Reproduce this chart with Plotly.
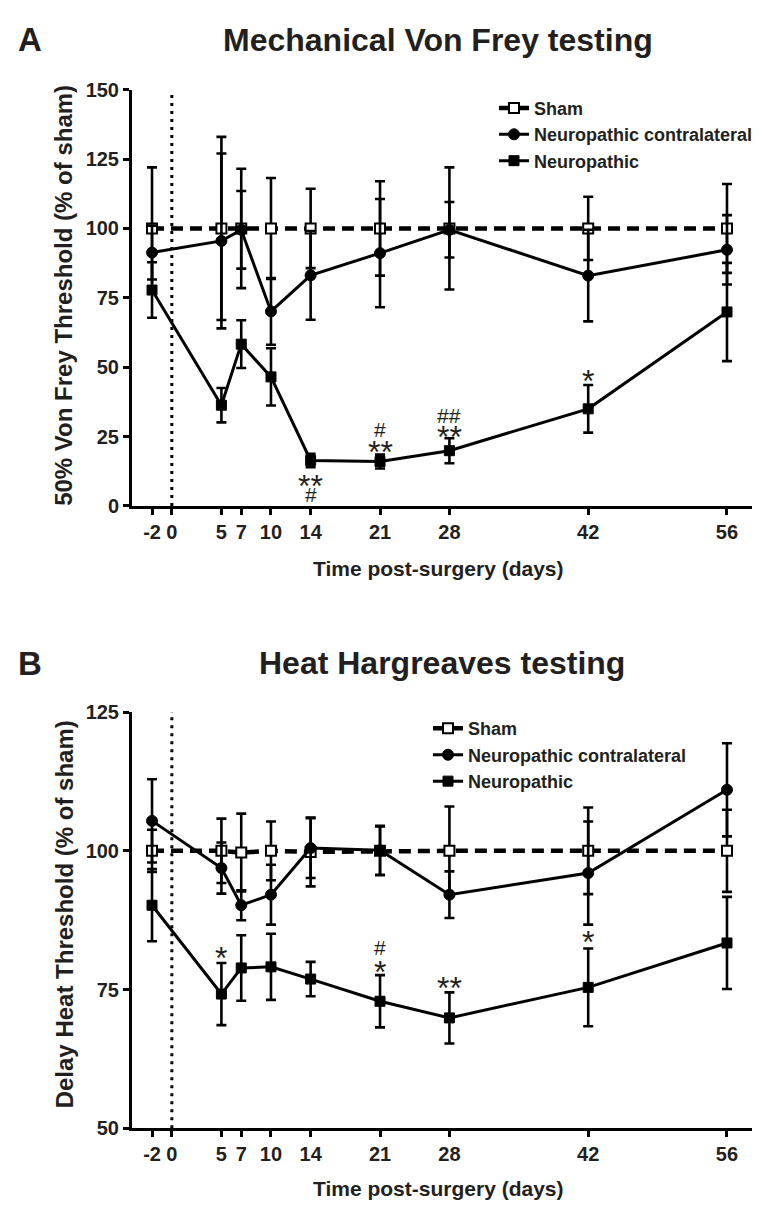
import plotly.graph_objects as go

# ---------------- data ----------------
days = [-2, 5, 7, 10, 14, 21, 28, 42, 56]
x_ticks = [-2, 0, 5, 7, 10, 14, 21, 28, 42, 56]

series_names = ["Sham", "Neuropathic contralateral", "Neuropathic"]

# Panel A: Mechanical Von Frey testing (% of sham)
sham_a = [100, 100, 100, 100, 100, 100, 100, 100, 100]
sham_a_err = [22, 33, 21.5, 18.2, 14.3, 17, 22, 11.4, 16]
contra_a = [91.3, 95.5, 99.5, 70.1, 83.1, 91.1, 99.5, 83, 92.3]
contra_a_err = [9.7, 31.5, 14, 12, 16, 19.5, 10, 16.5, 12.5]
neuro_a = [77.8, 36.3, 58.3, 46.5, 16.4, 16, 19.9, 35, 69.9]
neuro_a_err = [10, 6.2, 8.6, 10.3, 2.4, 2.5, 4.5, 8.6, 17.7]
y_ticks_a = [0, 25, 50, 75, 100, 125, 150]

# Panel B: Heat Hargreaves testing (% of sham)
sham_b = [100, 100, 99.7, 100, 99.8, 100, 100, 100, 100]
sham_b_err = [3.8, 5.8, 7, 5.3, 6.2, 4.4, 8, 7.8, 7.4]
contra_b = [105.4, 96.9, 90.2, 92.1, 100.5, 100.1, 92.1, 96, 111]
contra_b_err = [7.5, 4.6, 2.7, 5.4, 5.4, 4.4, 4.2, 9.3, 8.4]
neuro_b = [90.2, 74.2, 78.9, 79.1, 76.9, 72.9, 69.9, 75.4, 83.4]
neuro_b_err = [6.5, 5.6, 5.9, 5.95, 3.1, 4.7, 4.6, 7, 8.3]
y_ticks_b = [50, 75, 100, 125]

# significance marks: (day, value, text)
marks_a = [(14, 9.7, "**"), (14, 4.3, "#"), (21, 27.5, "#"), (21, 21.9, "**"),
           (28, 32.5, "##"), (28, 27.3, "**"), (42, 47.6, "*")]
marks_b = [(5, 82.0, "*"), (21, 82.6, "#"), (21, 79.5, "*"), (28, 76.5, "**"),
           (42, 84.8, "*")]

# ---------------- layout helpers ----------------
# page body has an 8px margin, so the figure is drawn 8px smaller and shifted
OFF = 8
W, H = 760 - OFF, 1212 - OFF
FONT = "Liberation Sans, Arial, Helvetica, sans-serif"
TXT = "#231f20"


def px_x(x):
    return (x - OFF) / W


def px_y(y):
    return 1 - (y - OFF) / H


fig = go.Figure()

styles = [
    dict(line=dict(color="black", width=4.5, dash="12px,7px"),
         marker=dict(symbol="square", size=10, color="white",
                     line=dict(color="black", width=2))),
    dict(line=dict(color="black", width=3),
         marker=dict(symbol="circle", size=11, color="black",
                     line=dict(color="black", width=1))),
    dict(line=dict(color="black", width=3),
         marker=dict(symbol="square", size=10, color="black",
                     line=dict(color="black", width=1))),
]

panels = [
    ("x", "y", "legend", [sham_a, contra_a, neuro_a], [sham_a_err, contra_a_err, neuro_a_err]),
    ("x2", "y2", "legend2", [sham_b, contra_b, neuro_b], [sham_b_err, contra_b_err, neuro_b_err]),
]

for xa, ya, lg, vals, errs in panels:
    for name, v, e, st in zip(series_names, vals, errs, styles):
        fig.add_trace(go.Scatter(
            x=days, y=v, name=name, mode="lines+markers",
            xaxis=xa, yaxis=ya, legend=lg,
            line=st["line"], marker=st["marker"],
            error_y=dict(type="data", array=e, symmetric=True,
                         color="black", thickness=2.6, width=5),
        ))

# vertical dotted line at day 0
dot = dict(color="black", width=3, dash="3px,5px")
fig.add_shape(type="line", xref="x", yref="y", x0=0, x1=0, y0=0, y1=150,
              line=dot, layer="below")
fig.add_shape(type="line", xref="x2", yref="y2", x0=0, x1=0, y0=50, y1=125,
              line=dot, layer="below")

tickfont = dict(family=FONT, size=20, color=TXT, weight="bold")
xaxis_common = dict(
    range=[-4.02, 59.33], tickmode="array", tickvals=x_ticks,
    ticktext=[str(t) for t in x_ticks],
    showline=True, linecolor="black", linewidth=3,
    ticks="outside", ticklen=6, tickwidth=3, tickcolor="black",
    showgrid=False, zeroline=False, tickfont=tickfont,
)
yaxis_common = dict(
    showline=True, linecolor="black", linewidth=3,
    ticks="outside", ticklen=6, tickwidth=3, tickcolor="black",
    showgrid=False, zeroline=False, tickmode="array", tickfont=tickfont,
)

legend_font = dict(family=FONT, size=18, color=TXT, weight="bold")
x_dom = [px_x(132), 1.0]
fig.update_layout(
    width=W, height=H,
    margin=dict(l=0, r=0, t=0, b=0),
    paper_bgcolor="white", plot_bgcolor="white",
    xaxis=dict(domain=x_dom, anchor="y", **xaxis_common),
    yaxis=dict(domain=[px_y(504), px_y(80)], anchor="x", range=[0, 150],
               tickvals=y_ticks_a, **yaxis_common),
    xaxis2=dict(domain=x_dom, anchor="y2", **xaxis_common),
    yaxis2=dict(domain=[px_y(1138), px_y(714)], anchor="x2", range=[50, 125],
                tickvals=y_ticks_b, **yaxis_common),
    legend=dict(x=px_x(494), y=px_y(80), xanchor="left", yanchor="top",
                bgcolor="rgba(0,0,0,0)", font=legend_font, itemwidth=30),
    legend2=dict(x=px_x(428), y=px_y(712), xanchor="left", yanchor="top",
                 bgcolor="rgba(0,0,0,0)", font=legend_font, itemwidth=30),
    showlegend=True,
)

ann = []
# panel letters and titles
ann.append(dict(text="A", x=px_x(30), y=px_y(29), font=dict(size=33)))
ann.append(dict(text="Mechanical Von Frey testing", x=px_x(438), y=px_y(29), font=dict(size=32)))
ann.append(dict(text="B", x=px_x(30), y=px_y(664), font=dict(size=33)))
ann.append(dict(text="Heat Hargreaves testing", x=px_x(442), y=px_y(664), font=dict(size=32)))
# axis titles
ann.append(dict(text="Time post-surgery (days)", x=px_x(438), y=px_y(568), font=dict(size=21)))
ann.append(dict(text="Time post-surgery (days)", x=px_x(438), y=px_y(1199), font=dict(size=21)))
ann.append(dict(text="50% Von Frey Threshold (% of sham)", x=px_x(64), y=px_y(290),
                font=dict(size=24), textangle=-90))
ann.append(dict(text="Delay Heat Threshold (% of sham)", x=px_x(64), y=px_y(920),
                font=dict(size=24), textangle=-90))

for a in ann:
    a.update(xref="paper", yref="paper", showarrow=False,
             xanchor="center", yanchor="middle")
    a["font"].update(family=FONT, color=TXT, weight="bold")

for xa, ya, marks in (("x", "y", marks_a), ("x2", "y2", marks_b)):
    for d, v, t in marks:
        star = "*" in t
        size = 32 if star else 21
        ann.append(dict(text=t, x=d, y=v, xref=xa, yref=ya, showarrow=False,
                        xanchor="center", yanchor="middle",
                        yshift=-7 if star else 0,
                        font=dict(family=FONT, size=size, color=TXT,
                                  weight="normal")))

fig.update_layout(annotations=ann)
fig.write_html("out.html")
